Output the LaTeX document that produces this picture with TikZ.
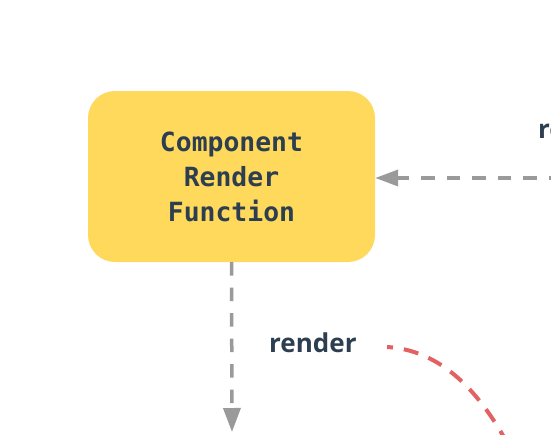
\documentclass[tikz,border=0pt]{standalone}
\usepackage{fontspec}
\usetikzlibrary{arrows.meta}
\newfontfamily\codefont{DejaVu Sans Mono}
\newfontfamily\lblfont{Open Sans}
\definecolor{boxyellow}{HTML}{FFD95B}
\definecolor{textblue}{HTML}{2C3E50}
\definecolor{arrowgray}{HTML}{9A9A9A}
\definecolor{curvered}{HTML}{E26262}
\tikzset{
  fnbox/.style={fill=boxyellow, draw=none, rounded corners=27pt,
    minimum width=287pt, minimum height=171pt, inner sep=0pt,
    align=center, text=textblue,
    font=\codefont\bfseries\fontsize{26.4}{35}\selectfont},
  graydash/.style={draw=arrowgray, line width=3.5pt,
    dash pattern=on 13.5pt off 12pt},
  graytipv/.style={-{Triangle[length=24pt,width=17pt]}},
  graytiph/.style={-{Triangle[length=23pt,width=16pt]}},
  reddash/.style={draw=curvered, line width=4pt,
    dash pattern=on 15pt off 11pt, dash phase=9pt},
  lbl/.style={inner sep=0pt, anchor=base west, text=textblue,
    font=\lblfont\bfseries\fontsize{26}{31}\selectfont}
}
\begin{document}
\begin{tikzpicture}[x=1pt,y=-1pt]
  \fill[white] (0,0) rectangle (551,434);
  \useasboundingbox (0,0) rectangle (551,434);
  \clip (0,0) rectangle (551,434);
  \node[fnbox] (crf) at (231.5,176.5) {Component\\Render\\Function};
  \coordinate (vend) at (232,432);
  \coordinate (hs) at (562,178);
  \coordinate (rs) at (387,347);
  \coordinate (re) at (512,452);
  \draw[graydash, graytipv, arrowgray] (crf.south) -- (vend);
  \draw[graydash, graytiph, arrowgray] (hs) -- (hs -| crf.east);
  \draw[reddash] (rs) .. controls (440,350) and (480,390) .. (re);
  \node[lbl] (lblrender) at (269,352) {render};
  \node[lbl] (lblre) at (538,138) {re};
\end{tikzpicture}
\end{document}
